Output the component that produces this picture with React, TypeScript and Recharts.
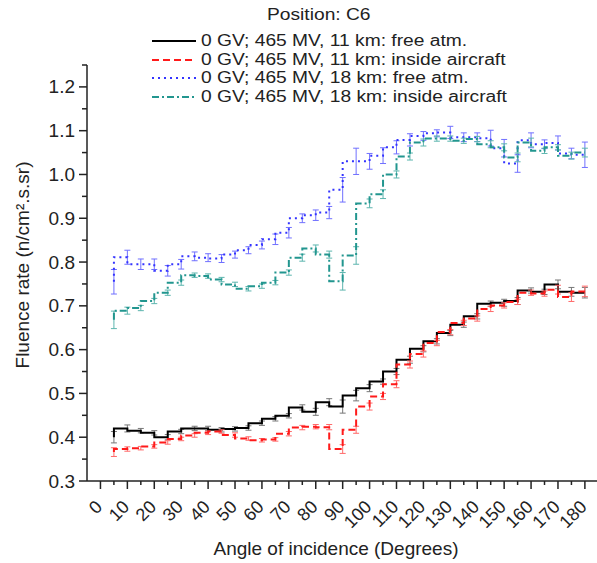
import { LineChart, Line, XAxis, YAxis, ErrorBar } from 'recharts'

const angles = [5, 10, 15, 20, 25, 30, 35, 40, 45, 50, 55, 60, 65, 70, 75, 80, 85, 90, 95, 100, 105, 110, 115, 120, 125, 130, 135, 140, 145, 150, 155, 160, 165, 170, 175, 180]

// 11 km, free atmosphere
const free11 = [0.40, 0.42, 0.415, 0.41, 0.40, 0.413, 0.42, 0.42, 0.417, 0.419, 0.421, 0.432, 0.442, 0.449, 0.468, 0.458, 0.48, 0.47, 0.495, 0.512, 0.527, 0.55, 0.577, 0.602, 0.619, 0.638, 0.657, 0.676, 0.705, 0.707, 0.711, 0.735, 0.732, 0.749, 0.732, 0.73]
const free11Err = [0.013, 0.008, 0.005, 0.005, 0.006, 0.005, 0.005, 0.005, 0.005, 0.005, 0.005, 0.005, 0.005, 0.005, 0.006, 0.008, 0.008, 0.015, 0.012, 0.008, 0.006, 0.007, 0.008, 0.007, 0.006, 0.006, 0.006, 0.006, 0.006, 0.008, 0.008, 0.006, 0.006, 0.01, 0.01, 0.012]

// 11 km, inside aircraft
const inside11 = [0.366, 0.373, 0.375, 0.379, 0.388, 0.396, 0.404, 0.41, 0.413, 0.405, 0.397, 0.393, 0.395, 0.408, 0.422, 0.424, 0.423, 0.373, 0.417, 0.47, 0.493, 0.521, 0.566, 0.59, 0.615, 0.64, 0.661, 0.671, 0.693, 0.701, 0.709, 0.73, 0.728, 0.737, 0.72, 0.733]
const inside11Err = [0.01, 0.005, 0.004, 0.004, 0.004, 0.004, 0.004, 0.004, 0.004, 0.005, 0.004, 0.004, 0.004, 0.005, 0.005, 0.005, 0.006, 0.01, 0.008, 0.008, 0.007, 0.008, 0.008, 0.007, 0.006, 0.006, 0.006, 0.006, 0.006, 0.006, 0.006, 0.006, 0.006, 0.01, 0.01, 0.012]

// 18 km, free atmosphere
const free18 = [0.755, 0.811, 0.795, 0.795, 0.78, 0.795, 0.813, 0.81, 0.808, 0.817, 0.827, 0.839, 0.852, 0.867, 0.9, 0.907, 0.913, 0.965, 1.03, 1.03, 1.043, 1.062, 1.079, 1.088, 1.094, 1.096, 1.085, 1.085, 1.083, 1.06, 1.025, 1.078, 1.069, 1.072, 1.048, 1.045]
const free18Err = [0.028, 0.016, 0.012, 0.012, 0.012, 0.011, 0.01, 0.009, 0.009, 0.008, 0.008, 0.009, 0.012, 0.012, 0.01, 0.012, 0.014, 0.028, 0.03, 0.018, 0.018, 0.015, 0.014, 0.01, 0.008, 0.014, 0.01, 0.01, 0.018, 0.02, 0.02, 0.017, 0.01, 0.016, 0.012, 0.029]

// 18 km, inside aircraft
const inside18 = [0.668, 0.689, 0.695, 0.711, 0.73, 0.753, 0.77, 0.768, 0.76, 0.749, 0.739, 0.745, 0.753, 0.776, 0.81, 0.831, 0.817, 0.756, 0.815, 0.934, 0.955, 1.0, 1.041, 1.073, 1.082, 1.082, 1.077, 1.081, 1.069, 1.062, 1.039, 1.073, 1.054, 1.062, 1.043, 1.05]
const inside18Err = [0.02, 0.008, 0.006, 0.006, 0.006, 0.006, 0.005, 0.005, 0.005, 0.005, 0.005, 0.005, 0.005, 0.006, 0.008, 0.008, 0.008, 0.02, 0.02, 0.01, 0.01, 0.008, 0.008, 0.008, 0.006, 0.006, 0.006, 0.006, 0.008, 0.008, 0.01, 0.01, 0.006, 0.006, 0.008, 0.01]

const xTicks = [0, 5, 10, 15, 20, 25, 30, 35, 40, 45, 50, 55, 60, 65, 70, 75, 80, 85, 90, 95, 100, 105, 110, 115, 120, 125, 130, 135, 140, 145, 150, 155, 160, 165, 170, 175, 180]
const yTicks = [0.3, 0.35, 0.4, 0.45, 0.5, 0.55, 0.6, 0.65, 0.7, 0.75, 0.8, 0.85, 0.9, 0.95, 1.0, 1.05, 1.1, 1.15, 1.2, 1.25]

const series = [
  { key: 'free11', name: '0 GV; 465 MV, 11 km: free atm.', color: '#000000', err: '#777777', dash: undefined, width: 2 },
  { key: 'inside11', name: '0 GV; 465 MV, 11 km: inside aircraft', color: '#ff1a1a', err: '#ff6a6a', dash: '7 4', width: 2 },
  { key: 'free18', name: '0 GV; 465 MV, 18 km: free atm.', color: '#3333ff', err: '#7070ff', dash: '2 4', width: 2 },
  { key: 'inside18', name: '0 GV; 465 MV, 18 km: inside aircraft', color: '#22968f', err: '#5cb5ae', dash: '7 3 2 3', width: 2 },
]

const data = angles.map((a, i) => ({
  angle: a,
  free11: free11[i], free11Err: free11Err[i],
  inside11: inside11[i], inside11Err: inside11Err[i],
  free18: free18[i], free18Err: free18Err[i],
  inside18: inside18[i], inside18Err: inside18Err[i],
}))

const FONT = '"Liberation Sans", Arial, sans-serif'
const AXIS = '#222'

function XTick(props: any) {
  const { x, y, payload } = props
  const major = payload.value % 10 === 0
  return (
    <g>
      <line x1={x} y1={y} x2={x} y2={y + (major ? 8 : 4)} stroke={AXIS} strokeWidth={1.5} />
      {major && (
        <text x={x + 3} y={y + 27} transform={`rotate(-45 ${x + 3} ${y + 27})`} textAnchor="end" fontSize={18} fill="#222" fontFamily={FONT}>
          {payload.value}
        </text>
      )}
    </g>
  )
}

function YTick(props: any) {
  const { x, y, payload } = props
  const major = Math.round(payload.value * 100) % 10 === 0
  return (
    <g>
      <line x1={x} y1={y} x2={x - (major ? 8 : 5)} y2={y} stroke={AXIS} strokeWidth={1.5} />
      {major && (
        <text x={x - 12} y={y} textAnchor="end" dominantBaseline="central" fontSize={19} fill="#222" fontFamily={FONT}>
          {payload.value.toFixed(1)}
        </text>
      )}
    </g>
  )
}

function YLabel() {
  return (
    <text x={22} y={265} transform="rotate(-90 22 265)" textAnchor="middle" dominantBaseline="central" fontSize={19} fill="#222" fontFamily={FONT}>
      Fluence rate (n/cm².s.sr)
    </text>
  )
}

function XLabel() {
  return (
    <text x={336} y={548} textAnchor="middle" dominantBaseline="central" fontSize={19} fill="#222" fontFamily={FONT}>
      Angle of incidence (Degrees)
    </text>
  )
}

export default function App() {
  return (
    <div style={{ position: 'relative', width: 597, height: 563, fontFamily: FONT, background: '#fff', overflow: 'hidden' }}>
      <style>{'body{margin:0}'}</style>
      <LineChart width={597} height={563} data={data} margin={{ top: 65, right: 0, bottom: 0, left: 0 }}>
        <XAxis
          dataKey="angle"
          type="number"
          domain={[-5, 184.5]}
          ticks={xTicks}
          interval={0}
          tick={<XTick />}
          tickLine={false}
          tickSize={0}
          tickMargin={0}
          height={82}
          stroke={AXIS}
          strokeWidth={1.5}
          label={<XLabel />}
        />
        <YAxis
          type="number"
          domain={[0.3, 1.25]}
          ticks={yTicks}
          interval={0}
          tick={<YTick />}
          tickLine={false}
          tickSize={0}
          tickMargin={0}
          width={87}
          stroke={AXIS}
          strokeWidth={1.5}
          allowDataOverflow
          label={<YLabel />}
        />
        {series.map((s) => (
          <Line
            key={s.key}
            dataKey={s.key}
            type="stepBefore"
            stroke={s.color}
            strokeWidth={s.width}
            strokeDasharray={s.dash}
            dot={false}
            activeDot={false}
            isAnimationActive={false}
          >
            <ErrorBar dataKey={`${s.key}Err`} direction="y" width={3} stroke={s.err} strokeWidth={1} isAnimationActive={false} />
          </Line>
        ))}
      </LineChart>
      <div style={{ position: 'absolute', left: 267, top: 6, fontSize: 16, lineHeight: '18px', color: '#222', whiteSpace: 'nowrap', transform: 'scaleX(1.2)', transformOrigin: 'left center' }}>
        Position: C6
      </div>
      {series.map((s, i) => (
        <div key={s.key} style={{ position: 'absolute', left: 152, top: 32 + i * 18.5, height: 18, display: 'flex', alignItems: 'center', color: '#222', whiteSpace: 'nowrap' }}>
          <svg width={46} height={18} style={{ display: 'block' }}>
            <line x1={0} y1={9} x2={44} y2={9} stroke={s.color} strokeWidth={s.width} strokeDasharray={s.dash} />
          </svg>
          <span style={{ marginLeft: 3, fontSize: 16, lineHeight: '18px', display: 'inline-block', transform: 'scaleX(1.2)', transformOrigin: 'left center' }}>{s.name}</span>
        </div>
      ))}
    </div>
  )
}
